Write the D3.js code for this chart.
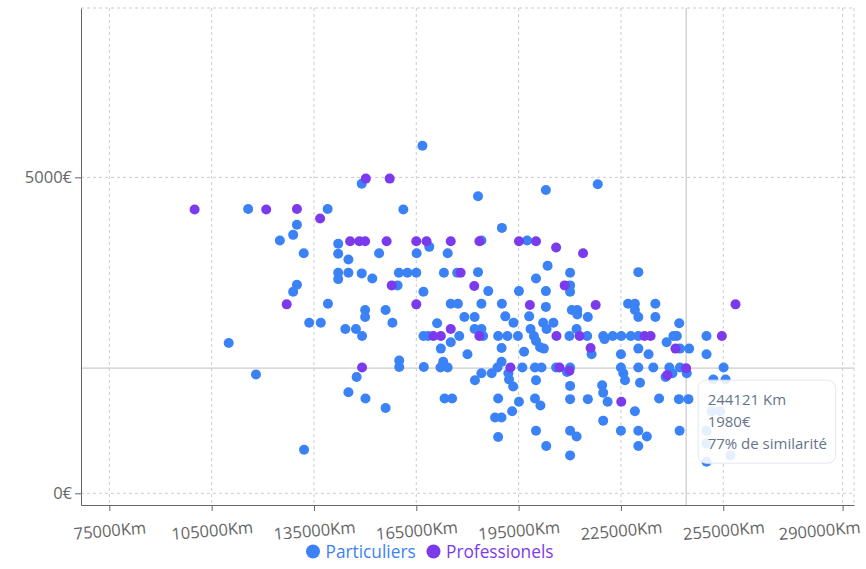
<!DOCTYPE html>
<html><head><meta charset="utf-8">
<script src="https://cdn.jsdelivr.net/npm/d3@7"></script>
<style>
html,body{margin:0;padding:0;background:#fff;}
svg{display:block;font-family:"Open Sans",sans-serif;}
</style></head><body>
<svg id="chart" width="866" height="569"></svg>
<script>
// ---- DATA ----
const seriesNames = ["Particuliers", "Professionels"];
const seriesColors = ["#3b82f6", "#7c3aed"];
const xTicks = [75000, 105000, 135000, 165000, 195000, 225000, 255000, 290000];
const yTicks = [0, 5000];
// [kilométrage, prix]
const particuliers = [
[110000,2380],[118000,1880],[115700,4500],[125000,4000],[128900,4090],[130000,4250],[132000,3800],[130000,3300],[128900,3190],[139100,3000],[133600,2700],[137000,2700],[139000,4500],[142100,3950],[142100,3790],[145100,3700],[154100,3800],[165100,3800],[142100,3490],[142100,3390],[145100,3490],[149000,3480],[152100,3400],[159900,3490],[162400,3490],[165000,3490],[159500,3290],[150000,2900],[150000,2790],[156000,2900],[158000,2700],[144200,2600],[147300,2600],[149100,2490],[147500,1840],[145100,1600],[150100,1500],[156000,1350],[160000,2100],[160000,2000],[132100,690],[149000,4900],[166800,5500],[161200,4490],[168800,3900],[167100,3190],[167100,2490],[168500,2490],[167200,2000],
[183100,4700],[203000,4800],[190100,4200],[218200,4890],[184100,4000],[197500,4000],[174200,3800],[173100,3490],[177000,3490],[183100,3500],[203500,3600],[200100,3400],[210100,3490],[210100,3290],[210100,3190],[186100,3200],[195100,3200],[203000,3200],[175100,3000],[177200,3000],[184100,3000],[190100,3000],[203000,2950],[210600,2900],[212200,2900],[212200,2830],[215300,2790],[227100,3000],[229100,3000],[229100,2900],[230100,2790],[235100,3000],[235100,2790],[230100,3500],[179100,2790],[182100,2790],[191100,2800],[198100,2800],[193500,2700],[202200,2700],[205200,2700],[203200,2600],[171100,2690],[182100,2600],[184100,2600],[198500,2600],[212000,2600],[242100,2690],
[177600,2490],[184600,2490],[189000,2490],[191700,2490],[194800,2490],[199500,2490],[200100,2410],[201300,2310],[202400,2290],[196600,2240],[209900,2490],[215100,2490],[219800,2490],[220200,2440],[222600,2490],[225100,2490],[227900,2490],[230100,2490],[238400,2390],[240400,2490],[241400,2490],[250100,2490],[216400,2200],[225000,2200],[230100,2290],[233100,2200],[242300,2290],[245000,2290],[250100,2200],
[210100,1990],[209200,1920],[210100,1700],[210100,1490],[215300,1490],[219500,1710],[219800,1590],[221100,1450],[225000,1990],[225700,1900],[226200,1790],[230100,1990],[234500,1990],[230600,1750],[229100,1300],[236200,1500],[219800,1150],[225000,990],[230100,990],[232600,900],[230100,750],[210100,990],[212000,900],[210100,600],[239200,1990],[238100,1840],[240100,1900],[242300,1990],[244300,1900],[242000,1490],[244800,1490],[242200,990],[255100,1990],[252100,1800],[255700,1800],[251600,1300],[254100,1300],[250100,990],[250100,790],[250100,500],[257100,600],
[172100,1990],[174200,1990],[172900,2080],[184100,1900],[182200,1790],[187100,1900],[190000,2080],[188800,1990],[192000,1900],[192200,1800],[193400,1690],[196100,1990],[199800,1990],[201700,1990],[200100,1790],[206000,1990],[173300,1500],[175500,1500],[189000,1500],[195100,1450],[199800,1500],[201400,1390],[188100,1200],[190000,1200],[193100,1300],[200100,990],[189000,890],[203100,750],[175100,2390],[172200,2290],[180000,2200],[190000,2300]
];
const professionels = [
[100000,4490],[121000,4490],[130000,4500],[136800,4350],[150200,4980],[157200,4980],[145600,3990],[148300,3990],[150000,3990],[156300,3990],[165000,3990],[168000,3990],[175100,3990],[183500,3990],[195100,3990],[200100,3990],[206000,3890],[213900,3800],[157800,3290],[178000,3490],[182000,3280],[208500,3290],[127000,2990],[165000,2990],[198300,2980],[217600,2980],[258600,2990],[175100,2600],[170000,2490],[172200,2490],[183500,2490],[206100,2490],[212900,2490],[231900,2490],[233700,2490],[254600,2490],[216100,2300],[241000,2290],[149100,1990],[192600,1990],[207000,1990],[209900,1940],[225100,1450],[238600,1870],[244121,1980]
];
const hover = {km: 244121, price: 1980, similarity: 77};

// ---- CHART ----
const plot = {left: 81, right: 854, top: 8, bottom: 505};
const x = d3.scaleLinear().domain([66690, 293340]).range([plot.left, plot.right]);
const y = d3.scaleLinear().domain([-185, 7680]).range([plot.bottom, plot.top]);
const svg = d3.select("#chart");

// grid
const grid = svg.append("g").attr("stroke", "#ccc").attr("stroke-dasharray", "3 3").attr("fill", "none");
xTicks.forEach(v => grid.append("line").attr("x1", x(v)).attr("x2", x(v)).attr("y1", plot.top).attr("y2", plot.bottom));
grid.append("line").attr("x1", plot.right).attr("x2", plot.right).attr("y1", plot.top).attr("y2", plot.bottom);
yTicks.forEach(v => grid.append("line").attr("x1", plot.left).attr("x2", plot.right).attr("y1", y(v)).attr("y2", y(v)));
grid.append("line").attr("x1", plot.left).attr("x2", plot.right).attr("y1", plot.top).attr("y2", plot.top);

// crosshair
const cx = x(hover.km), cy = y(hover.price);
svg.append("line").attr("x1", cx).attr("x2", cx).attr("y1", plot.top).attr("y2", plot.bottom).attr("stroke", "#ccc").attr("stroke-width", 1.3);
svg.append("line").attr("x1", plot.left).attr("x2", plot.right).attr("y1", cy).attr("y2", cy).attr("stroke", "#ccc").attr("stroke-width", 1.3);

// points
[particuliers, professionels].forEach((data, i) => {
  svg.append("g").selectAll("circle").data(data).join("circle")
    .attr("cx", d => x(d[0])).attr("cy", d => y(d[1])).attr("r", 5)
    .attr("fill", seriesColors[i]);
});

// axes
const xAxis = svg.append("g").attr("transform", `translate(0,${plot.bottom})`)
  .call(d3.axisBottom(x).tickValues(xTicks).tickFormat(d => d + "Km").tickSize(6).tickSizeOuter(0));
const yAxis = svg.append("g").attr("transform", `translate(${plot.left},0)`)
  .call(d3.axisLeft(y).tickValues(yTicks).tickFormat(d => d + "€").tickSize(6).tickSizeOuter(0));
[xAxis, yAxis].forEach(a => {
  a.select(".domain").attr("stroke", "#666");
  a.selectAll(".tick line").attr("stroke", "#666");
  a.selectAll("text").attr("fill", "#666").style("font-size", "16.5px").style("font-family", "'Open Sans',sans-serif");
});
// x labels: slightly tilted; keep the last one inside the chart width
xAxis.selectAll(".tick text").each(function(d) {
  const t = d3.select(this).attr("y", 0).attr("dy", null).attr("dominant-baseline", "central");
  const w = this.getComputedTextLength();
  const tickX = x(d);
  const maxRight = 860;
  const shift = Math.min(0, maxRight - (tickX + w / 2));
  t.attr("transform", `translate(${shift},25) rotate(-5)`);
});

// tooltip
const tt = svg.append("g").attr("transform", `translate(${cx + 12},${cy + 12})`);
tt.append("rect").attr("width", 137.6).attr("height", 83).attr("rx", 8)
  .attr("fill", "rgba(255,255,255,0.87)").attr("stroke", "#e2e8f0");
const ttLines = [hover.km + " Km", hover.price + "€", hover.similarity + "% de similarité"];
ttLines.forEach((t, i) => tt.append("text").attr("x", 9.5).attr("y", 25 + i * 21.7)
  .attr("fill", "#64748b").style("font-size", "15px").text(t));

// legend
const legendX = [313, 433.5];
seriesNames.forEach((n, i) => {
  const g = svg.append("g").attr("transform", `translate(${legendX[i]},551.5)`);
  g.append("circle").attr("r", 7).attr("fill", seriesColors[i]);
  g.append("text").attr("x", 12.5).attr("dominant-baseline", "central").attr("fill", seriesColors[i])
    .style("font-size", "17.3px").text(n);
});
</script>
</body></html>
